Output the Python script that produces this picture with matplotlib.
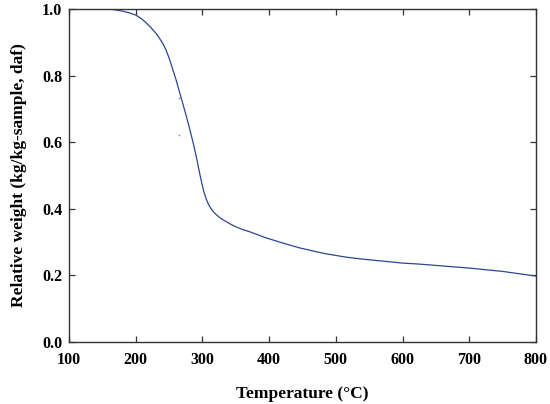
import matplotlib
matplotlib.use('Agg')
import matplotlib.pyplot as plt

# --- TGA curve ---
temp = [150, 165, 180, 190, 200, 208, 215, 223, 230, 234, 240, 245, 250, 255,
        261, 266, 271, 276, 281, 286, 290, 293, 296, 299, 302, 306, 309, 312,
        316, 320, 325, 330, 336, 343, 350, 360, 371, 383, 395, 408, 421, 433,
        445, 458, 471, 485, 500, 515, 531, 545, 560, 580, 600, 625, 650, 675,
        700, 725, 750, 775, 800]
weight = [1.0, 0.999, 0.994, 0.989, 0.982, 0.972, 0.960, 0.944, 0.928, 0.917,
          0.899, 0.879, 0.853, 0.822, 0.784, 0.748, 0.713, 0.677, 0.639, 0.599,
          0.564, 0.535, 0.505, 0.477, 0.452, 0.428, 0.414, 0.403, 0.392, 0.384,
          0.375, 0.368, 0.361, 0.353, 0.346, 0.338, 0.331, 0.322, 0.313, 0.305,
          0.297, 0.29, 0.283, 0.277, 0.271, 0.265, 0.26, 0.255, 0.251, 0.248,
          0.245, 0.241, 0.237, 0.234, 0.23, 0.226, 0.222, 0.217, 0.212, 0.205,
          0.198]

# two stray points near the steep drop
stray_t = [265, 265]
stray_w = [0.732, 0.622]

x_ticks = [100, 200, 300, 400, 500, 600, 700, 800]
y_ticks = [0.0, 0.2, 0.4, 0.6, 0.8, 1.0]

plt.rcParams['font.family'] = ['Liberation Serif', 'DejaVu Serif']
plt.rcParams['font.weight'] = 'bold'

fig = plt.figure(figsize=(5.5, 4.04), dpi=100)
ax = fig.add_axes([0.1255, 0.1535, 0.849, 0.824])

ax.plot(temp, weight, color='#2e4494', linewidth=0.9)
ax.scatter(stray_t, stray_w, s=1.5, color='#7d8aa8', linewidths=0)

ax.set_xlim(100, 800)
ax.set_ylim(0.0, 1.0)
ax.set_xticks(x_ticks)
ax.set_yticks(y_ticks)
ax.set_yticklabels([f'{v:.1f}' for v in y_ticks])

ax.tick_params(direction='in', top=True, right=True, length=4.5, width=0.9,
               color='#333333', labelsize=11.5, pad=5)
ax.tick_params(axis='x', pad=7)
for s in ax.spines.values():
    s.set_linewidth(1.0)
    s.set_color('#333333')

ax.set_xlabel('Temperature (°C)', fontsize=12.5, fontweight='bold', labelpad=13)
ax.set_ylabel('Relative weight (kg/kg-sample, daf)', fontsize=12.5,
              fontweight='bold', labelpad=11)

fig.savefig('out.png', dpi=100)
